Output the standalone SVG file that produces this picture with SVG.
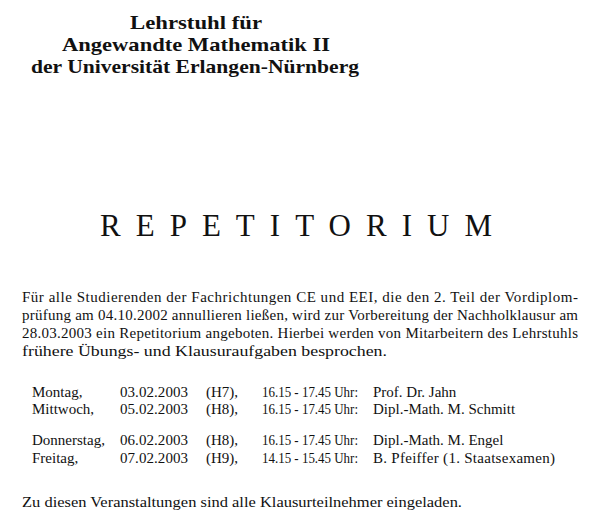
<svg xmlns="http://www.w3.org/2000/svg" width="600" height="530" viewBox="0 0 600 530">
<style>
text{font-family:"Liberation Serif","DejaVu Serif",serif;fill:#111}
.h{font-size:19px;font-weight:bold}
.t{font-size:15px}
</style>
<rect width="600" height="530" fill="#fff"/>
<text class="h" x="130" y="29" textLength="132" lengthAdjust="spacingAndGlyphs">Lehrstuhl für</text>
<text class="h" x="62" y="51" textLength="268" lengthAdjust="spacingAndGlyphs">Angewandte Mathematik II</text>
<text class="h" x="31" y="73" textLength="328" lengthAdjust="spacingAndGlyphs">der Universität Erlangen-Nürnberg</text>
<text x="100" y="236" style="font-size:31px" textLength="392" lengthAdjust="spacing">REPETITORIUM</text>
<text class="t" x="22" y="302" textLength="556" lengthAdjust="spacing">Für alle Studierenden der Fachrichtungen CE und EEI, die den 2. Teil der Vordiplom-</text>
<text class="t" x="22" y="320" textLength="556" lengthAdjust="spacing">prüfung am 04.10.2002 annullieren ließen, wird zur Vorbereitung der Nachholklausur am</text>
<text class="t" x="22" y="338" textLength="556" lengthAdjust="spacing">28.03.2003 ein Repetitorium angeboten. Hierbei werden von Mitarbeitern des Lehrstuhls</text>
<text class="t" x="22" y="356" textLength="365" lengthAdjust="spacingAndGlyphs">frühere Übungs- und Klausuraufgaben besprochen.</text>
<text class="t" x="32" y="397">Montag,</text><text class="t" x="120" y="397" textLength="68">03.02.2003</text><text class="t" x="206" y="397">(H7),</text><text class="t" x="262" y="397" textLength="96" lengthAdjust="spacingAndGlyphs">16.15 - 17.45 Uhr:</text><text class="t" x="373" y="397">Prof. Dr. Jahn</text>
<text class="t" x="32" y="414">Mittwoch,</text><text class="t" x="120" y="414" textLength="68">05.02.2003</text><text class="t" x="206" y="414">(H8),</text><text class="t" x="262" y="414" textLength="96" lengthAdjust="spacingAndGlyphs">16.15 - 17.45 Uhr:</text><text class="t" x="373" y="414">Dipl.-Math. M. Schmitt</text>
<text class="t" x="32" y="445">Donnerstag,</text><text class="t" x="120" y="445" textLength="68">06.02.2003</text><text class="t" x="206" y="445">(H8),</text><text class="t" x="262" y="445" textLength="96" lengthAdjust="spacingAndGlyphs">16.15 - 17.45 Uhr:</text><text class="t" x="373" y="445">Dipl.-Math. M. Engel</text>
<text class="t" x="32" y="463">Freitag,</text><text class="t" x="120" y="463" textLength="68">07.02.2003</text><text class="t" x="206" y="463">(H9),</text><text class="t" x="262" y="463" textLength="96" lengthAdjust="spacingAndGlyphs">14.15 - 15.45 Uhr:</text><text class="t" x="373" y="463" textLength="182">B. Pfeiffer (1. Staatsexamen)</text>
<text class="t" x="22" y="507" textLength="440" lengthAdjust="spacingAndGlyphs">Zu diesen Veranstaltungen sind alle Klausurteilnehmer eingeladen.</text>
</svg>
